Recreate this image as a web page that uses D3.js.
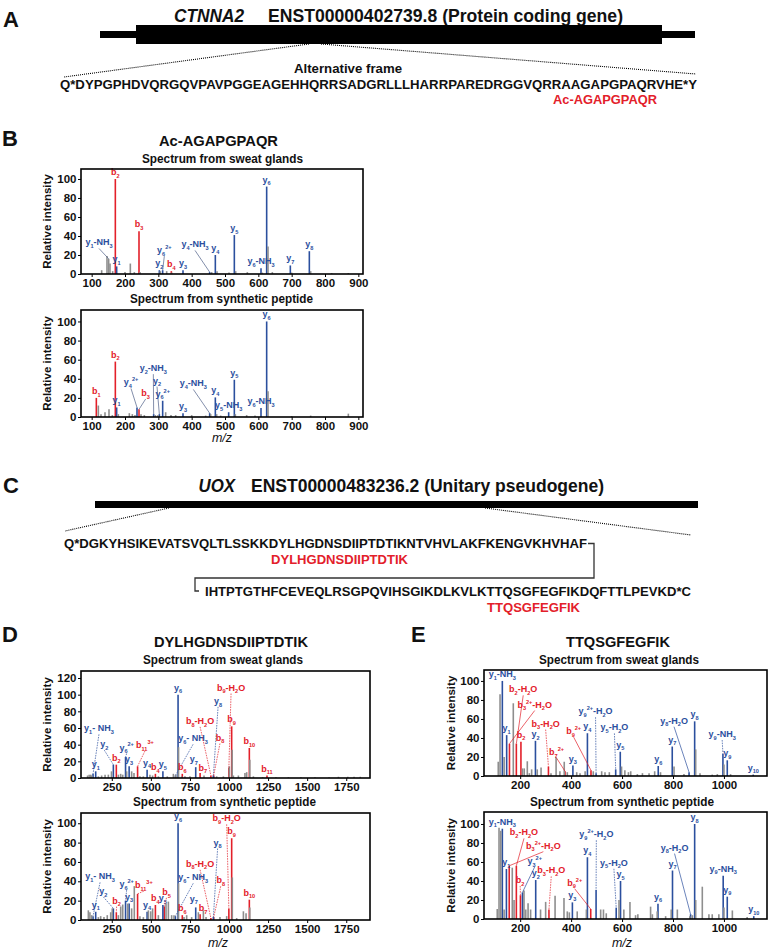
<!DOCTYPE html>
<html><head><meta charset="utf-8">
<script src="https://cdn.jsdelivr.net/npm/d3@7"></script>
<style>
body{margin:0;background:#fff;}
svg{display:block;font-family:"Liberation Sans",Arial,Helvetica,sans-serif;}
</style></head><body>
<svg id="fig" width="768" height="951"></svg>
<script>
// ---------------- DATA ----------------
const seqA = "Q*DYPGPHDVQRGQVPAVPGGEAGEHHQRRSADGRLLLHARRPAREDRGGVQRRAAGAPGPAQRVHE*Y";
const pepA = "Ac-AGAPGPAQR";
const seqC1 = "Q*DGKYHSIKEVATSVQLTLSSKKDYLHGDNSDIIPTDTIKNTVHVLAKFKENGVKHVHAF";
const seqC2 = "IHTPTGTHFCEVEQLRSGPQVIHSGIKDLKVLKTTQSGFEGFIKDQFTTLPEVKD*C";
const pepD = "DYLHGDNSDIIPTDTIK";
const pepE = "TTQSGFEGFIK";

const ticksB = [100,200,300,400,500,600,700,800,900];
const ticksD = [250,500,750,1000,1250,1500,1750];
const ticksE = [200,400,600,800,1000];
const yTicks100 = [0,20,40,60,80,100];
const yTicks120 = [0,20,40,60,80,100,120];

// peaks: [m/z, relative intensity, ion type]  (b, y, o = other)
const bSweatPeaks = [
 [171,100,'b'],[242,45,'b'],[339,3,'b'],
 [175,8,'y'],[303,4,'y'],[313,4,'y'],[374,4,'y'],[454,2,'y'],[471,20,'y'],[528,41,'y'],[608,6,'y'],[625,92,'y'],[696,9,'y'],[753,24,'y'],
 [130,4,'o'],[146,19,'o'],[151,16,'o'],[155,11,'o'],[163,3,'o'],[200,2,'o'],[216,11,'o'],[228,2,'o'],[245,2,'o'],[306,3,'o'],[325,3,'o'],[340,1.5,'o'],[460,2,'o'],[476,3,'o'],[512,1.5,'o'],[532,3,'o'],[567,2,'o'],[612,1.5,'o'],[629,29,'o'],[642,2,'o'],[700,1.5,'o'],[757,3,'o'],[820,1,'o'],[870,1,'o']
];
// labels: [peak m/z, text, label m/z, label intensity, draw leader]
const bSweatLabels = [
 [151,"y{1}-NH{3}",122,30],[175,"y{1}"],[171,"b{2}"],[242,"b{3}"],[303,"y{2}"],
 [313,"y{6}[2+]",318,22],[339,"b{4}"],[374,"y{3}"],[454,"y{4}-NH{3}",410,28],
 [471,"y{4}"],[528,"y{5}"],[608,"y{6}-NH{3}"],[625,"y{6}"],[696,"y{7}"],[753,"y{8}"]
];
const bSynPeaks = [
 [114,20,'b'],[171,58,'b'],[242,8,'b'],
 [175,10,'y'],[236,10,'y'],[286,3,'y'],[303,3,'y'],[313,17,'y'],[374,4,'y'],[454,4,'y'],[471,20.5,'y'],[511,5,'y'],[528,39,'y'],[608,9.5,'y'],[625,100,'y'],
 [120,12,'o'],[128,3,'o'],[140,5,'o'],[152,8,'o'],[162,2,'o'],[180,3,'o'],[213,4,'o'],[222,3,'o'],[230,2,'o'],[248,3,'o'],[258,2,'o'],[291,2,'o'],[299,2,'o'],[322,5,'o'],[338,2,'o'],[352,2,'o'],[400,2,'o'],[442,1.5,'o'],[457,3,'o'],[475,3,'o'],[487,1.5,'o'],[531,3,'o'],[565,2,'o'],[590,1.5,'o'],[629,27,'o'],[700,1,'o'],[757,1.5,'o'],[870,3.5,'o']
];
const bSynLabels = [
 [114,"b{1}"],[171,"b{2}"],[175,"y{1}"],[236,"y{4}[2+]",218,33],[242,"b{3}",262,22],
 [286,"y{2}-NH{3}",285,48],[303,"y{2}",296,35],[313,"y{6}[2+]"],[374,"y{3}"],
 [454,"y{4}-NH{3}",405,32],[471,"y{4}"],[511,"y{5}-NH{3}"],[528,"y{5}"],[608,"y{6}-NH{3}"],[625,"y{6}"]
];
const dSweatPeaks = [
 [279,16,'b'],[415,14,'b'],[529,5,'b'],[701,5,'b'],[815,6,'b'],[884,3,'b'],[902,3,'b'],[999,12,'b'],[1017,62,'b'],[1130,36,'b'],[1243,3,'b'],
 [130,5,'y'],[147,8,'y'],[260,16,'y'],[338,25,'y'],[361,14,'y'],[476,10,'y'],[577,8,'y'],[657,3,'y'],[674,100,'y'],[787,13,'y'],[900,3,'y'],
 [95,3,'o'],[105,4,'o'],[115,4,'o'],[122,3,'o'],[164,2,'o'],[185,3,'o'],[207,4,'o'],[228,4,'o'],[248,8,'o'],[292,4,'o'],[307,5,'o'],[320,4,'o'],[345,8,'o'],[377,8,'o'],[392,6,'o'],[430,2,'o'],[452,2,'o'],[494,4,'o'],[511,3,'o'],[548,2,'o'],[605,2,'o'],[644,5,'o'],[660,4,'o'],[677,37,'o'],[697,2,'o'],[718,2,'o'],[750,2,'o'],[840,3,'o'],[921,2,'o'],[964,2,'o'],[1002,14,'o'],[1020,34,'o'],[1028,3,'o'],[1060,3,'o'],[1102,6,'o'],[1113,7,'o'],[1133,22,'o'],[1156,2,'o'],[1215,1,'o'],[1300,1,'o'],[1380,1,'o'],[1460,1,'o'],[1550,1,'o'],[1640,1,'o'],[1700,1.5,'o'],[1760,1.5,'o'],[1800,1.5,'o'],[1840,1.5,'o']
];
const dSweatLabels = [
 [130,"y{1}- NH{3}",168,56],[147,"y{1}"],[260,"y{2}",202,37],[279,"b{2}"],[338,"y{6}[2+]",345,33],
 [361,"y{3}"],[415,"b{11}[3+]",462,36],[476,"y{4}"],[529,"b{4}"],[577,"y{5}"],[674,"y{6}"],
 [657,"y{6}- NH{3}",770,44],[701,"b{6}"],[787,"y{7}",775,19,false],[815,"b{7}",832,9,false],[884,"b{8}-H{2}O",815,65],
 [900,"y{8}",930,89],[902,"b{8}",942,45],[999,"b{9}-H{2}O",1013,105],[1017,"b{9}"],[1130,"b{10}"],[1243,"b{11}"]
];
const dSynPeaks = [
 [279,8,'b'],[415,27,'b'],[529,15.5,'b'],[586,14,'b'],[701,5,'b'],[815,6,'b'],[884,2,'b'],[902,3,'b'],[999,12,'b'],[1017,84.5,'b'],[1130,21,'b'],
 [130,4,'y'],[147,8.5,'y'],[260,12,'y'],[338,20,'y'],[361,17,'y'],[476,8.5,'y'],[577,15.5,'y'],[657,4,'y'],[674,100,'y'],[787,13,'y'],[900,3,'y'],
 [100,10,'o'],[110,8,'o'],[121,5,'o'],[164,3,'o'],[179,4,'o'],[200,3,'o'],[221,5,'o'],[243,8,'o'],[253,12,'o'],[292,5,'o'],[307,14,'o'],[320,16,'o'],[352,17,'o'],[377,12,'o'],[394,35,'o'],[430,4,'o'],[452,3,'o'],[484,10,'o'],[499,9,'o'],[511,12,'o'],[548,5,'o'],[597,17,'o'],[612,19,'o'],[633,5,'o'],[648,5,'o'],[677,38,'o'],[712,3,'o'],[729,5,'o'],[761,3,'o'],[804,8,'o'],[836,10,'o'],[853,3,'o'],[942,3,'o'],[985,4,'o'],[1021,44,'o'],[1049,2,'o'],[1092,9,'o'],[1109,7,'o'],[1133,13,'o']
];
const dSynLabels = [
 [130,"y{1}- NH{3}",175,42],[147,"y{1}"],[260,"y{2}",196,27],[279,"b{2}",281,17],[338,"y{6}[2+]",345,34],
 [361,"y{3}"],[415,"b{11}[3+]",455,33],[476,"y{4}"],[529,"b{4}"],[577,"y{5}"],[586,"b{5}",600,26],
 [674,"y{6}"],[657,"y{6}- NH{3}",771,41],[701,"b{6}"],[787,"y{7}",775,19,false],[815,"b{7}",834,9,false],[884,"b{8}-H{2}O",815,55],
 [900,"y{8}",927,77],[902,"b{8}",947,38],[999,"b{9}-H{2}O",985,102],[1017,"b{9}"],[1130,"b{10}"]
];
const eSweatPeaks = [
 [158,34,'b'],[185,34,'b'],[203,36,'b'],[311,10,'b'],[376,5,'b'],[478,6,'b'],
 [130,100,'y'],[147,43,'y'],[260,37,'y'],[407,11,'y'],[464,45,'y'],[498,3,'y'],[575,7,'y'],[593,25.5,'y'],[742,10.5,'y'],[797,31,'y'],[863,4,'y'],[885,57.5,'y'],[996,23.5,'y'],[1013,16.5,'y'],[1115,1.5,'y'],
 [114,15,'o'],[121,86,'o'],[137,20,'o'],[173,76.5,'o'],[209,8,'o'],[216,8,'o'],[228,15.5,'o'],[236,3,'o'],[245,7,'o'],[267,7,'o'],[282,9,'o'],[321,3,'o'],[341,20,'o'],[356,5,'o'],[373,15,'o'],[385,4,'o'],[422,4,'o'],[435,3,'o'],[455,5,'o'],[487,5,'o'],[520,5,'o'],[533,4,'o'],[550,4,'o'],[598,10,'o'],[611,6,'o'],[625,4,'o'],[634,5,'o'],[660,2,'o'],[680,3,'o'],[706,3,'o'],[728,5,'o'],[751,4,'o'],[804,10,'o'],[843,2,'o'],[889,28,'o'],[906,3,'o'],[954,1.5,'o'],[974,2,'o'],[1000,12,'o'],[1026,2,'o']
];
const eSweatLabels = [
 [130,"y{1}-NH{3}"],[147,"y{1}"],[185,"b{2}-H{2}O",212,88],[158,"b{3}[2+]-H{2}O",257,72],[203,"b{2}"],
 [260,"y{2}"],[311,"b{3}-H{2}O",300,52],[376,"b{7}[2+]",343,22],[407,"y{3}"],[478,"b{9}[2+]",410,44],
 [464,"y{4}"],[498,"y{9}[2+]-H{2}O",496,65],[575,"y{5}-H{2}O",570,48],[593,"y{5}"],[742,"y{6}"],[797,"y{7}"],
 [863,"y{8}-H{2}O",804,55],[885,"y{8}"],[996,"y{9}-NH{3}",993,41],[1013,"y{9}"],[1115,"y{10}"]
];
const eSynPeaks = [
 [157,56,'b'],[185,56,'b'],[201,25,'b'],[313,10,'b'],[477,10.5,'b'],
 [130,95,'y'],[146,52.6,'y'],[209,28,'y'],[261,41,'y'],[405,17.5,'y'],[464,65,'y'],[498,30.5,'y'],[577,12,'y'],[594,40,'y'],[741,16,'y'],[798,51,'y'],[869,5,'y'],[885,100,'y'],[997,45.5,'y'],[1013,23.5,'y'],[1117,3,'y'],
 [110,10.5,'o'],[117,96,'o'],[124,93,'o'],[137,10,'o'],[169,54,'o'],[176,20,'o'],[215,30,'o'],[222,10,'o'],[231,16.5,'o'],[241,10,'o'],[280,10,'o'],[300,18,'o'],[337,24.5,'o'],[372,22,'o'],[385,8,'o'],[393,7,'o'],[424,8,'o'],[460,10,'o'],[516,10,'o'],[527,10,'o'],[538,6,'o'],[588,20,'o'],[607,10,'o'],[631,18,'o'],[653,4,'o'],[662,5,'o'],[712,13,'o'],[719,5,'o'],[738,8,'o'],[771,3,'o'],[793,10,'o'],[817,10,'o'],[866,3,'o'],[876,4,'o'],[889,20,'o'],[915,34,'o'],[941,5,'o'],[954,5,'o'],[980,5,'o'],[1000,12,'o'],[1033,9,'o'],[1091,2,'o']
];
const eSynLabels = [
 [130,"y{1}-NH{3}"],[146,"y{1}"],[185,"b{2}-H{2}O",215,88],[157,"b{3}[2+]-H{2}O",291,74],[209,"y{3}[2+]",257,58],
 [201,"b{2}",200,38],[261,"y{2}"],[313,"b{3}-H{2}O",322,48],[405,"y{3}"],[477,"b{9}[2+]",414,35],
 [464,"y{4}"],[498,"y{9}[2+]-H{2}O",499,86],[577,"y{5}-H{2}O",568,56],[594,"y{5}"],[741,"y{6}"],[798,"y{7}"],
 [869,"y{8}-H{2}O",806,72],[885,"y{8}"],[997,"y{9}-NH{3}"],[1013,"y{9}"],[1117,"y{10}"]
];

// ---------------- DRAWING ----------------
const FONT = '"Liberation Sans",Arial,Helvetica,sans-serif';
const COL = {b:"#e3202a", y:"#2b4f9e", o:"#8e8e8e"};
const svg = d3.select("#fig");

function txt(str, x1, x2, base, size, opt={}){
  const t = svg.append("text").attr("x",x1).attr("y",base).text(str)
    .attr("font-size",size).attr("font-weight",opt.weight||"bold")
    .attr("fill",opt.fill||"#111");
  if(opt.italic) t.attr("font-style","italic");
  if(x2!=null){ t.attr("textLength",x2-x1).attr("lengthAdjust","spacingAndGlyphs"); }
  return t;
}
function rich(sel, str, size){
  const re=/\{([^}]*)\}|\[([^\]]*)\]|([^{\[]+)/g;
  let m, shift=0;
  while((m=re.exec(str))){
    let t,k;
    if(m[1]!==undefined){t=m[1];k='sub';} else if(m[2]!==undefined){t=m[2];k='sup';} else {t=m[3];k='n';}
    const target = k==='sub'? size*0.3 : k==='sup'? -size*0.45 : 0;
    const ts = sel.append("tspan").text(t).attr("dy",target-shift);
    shift=target;
    if(k!=='n') ts.attr("font-size",size*0.62);
  }
}

function spectrum(c){
  const g = svg.append("g");
  const x = d3.scaleLinear().domain(c.xdom).range([c.left,c.right]);
  const y = d3.scaleLinear().domain([0,c.ymax]).range([c.bottom,c.top]);
  const sorted = [...c.peaks.filter(p=>p[2]!=='o'), ...c.peaks.filter(p=>p[2]==='o')];
  g.append("g").selectAll("line").data(sorted).join("line")
    .attr("x1",d=>x(d[0])).attr("x2",d=>x(d[0]))
    .attr("y1",y(0)).attr("y2",d=>y(d[1]))
    .attr("stroke",d=>COL[d[2]]).attr("stroke-width",1.6);
  const lg = g.append("g");
  c.labels.forEach(l=>{
    const [mz,str,lx,ly,lead] = l;
    const pk = c.peaks.reduce((a,p)=>Math.abs(p[0]-mz)<Math.abs(a[0]-mz)?p:a);
    const col = str[0]==='b'?COL.b:COL.y;
    let tx,ty;
    if(lx===undefined){ tx=x(pk[0]); ty=y(pk[1])-4; }
    else{
      tx=x(lx); ty=y(ly);
      if(lead!==false){
        const ln = lg.append("line").attr("x1",tx).attr("y1",ty+3)
          .attr("x2",x(pk[0])).attr("y2",y(pk[1]))
          .attr("stroke",c.leadCol||col).attr("stroke-width",0.7);
        const vertical = Math.abs(tx-x(pk[0]))<6;
        if(c.dash==='all' || (c.dash==='vertical' && vertical)) ln.attr("stroke-dasharray","1.6,1");
      }
    }
    const t = lg.append("text").attr("x",tx).attr("y",ty).attr("text-anchor","middle")
      .attr("fill",col).attr("font-size",c.lfs).attr("font-weight","bold");
    rich(t,str,c.lfs);
  });
  g.append("rect").attr("x",c.left).attr("y",c.top).attr("width",c.right-c.left).attr("height",c.bottom-c.top)
    .attr("fill","none").attr("stroke","#000").attr("stroke-width",1.6);
  const ax = g.append("g").attr("transform",`translate(0,${c.bottom})`)
    .call(d3.axisBottom(x).tickValues(c.xticks).tickFormat(d3.format("d")).tickSize(3).tickPadding(2));
  const ay = g.append("g").attr("transform",`translate(${c.left},0)`)
    .call(d3.axisLeft(y).tickValues(c.yticks).tickFormat(d3.format("d")).tickSize(3).tickPadding(1.5));
  [ax,ay].forEach(a=>{
    a.attr("font-family",FONT).attr("font-size",11.5).attr("font-weight","bold");
    a.select(".domain").remove();
    a.selectAll("line").attr("stroke","#000");
    a.selectAll("text").attr("fill","#111");
  });
  g.append("text").attr("transform",`translate(${c.ylabX},${(c.top+c.bottom)/2}) rotate(-90)`)
    .attr("text-anchor","middle").attr("dy","0.35em").attr("font-size",11.5).attr("font-weight","bold")
    .attr("fill","#111").text("Relative intensity");
  if(c.sub) txt(c.sub[0], c.sub[1], c.sub[2], c.sub[3], 12);
  if(c.mz) svg.append("text").attr("x",c.mz[0]).attr("y",c.mz[1]).attr("text-anchor","middle")
     .attr("font-size",12.5).attr("font-style","italic").attr("fill","#111").text("m/z");
}

// ---- panel letters
[["A",3,27],["B",2,146],["C",3,493],["D",2,642],["E",411,642]].forEach(([s,x,y])=>{
  svg.append("text").attr("x",x).attr("y",y).attr("font-size",22).attr("font-weight","bold").attr("fill","#111").text(s);
});

function dotted(x1,y1,x2,y2){
  svg.append("line").attr("x1",x1).attr("y1",y1).attr("x2",x2).attr("y2",y2)
    .attr("stroke","#000").attr("stroke-width",1.1).attr("stroke-dasharray","1,1");
}

// ---- Panel A
txt("CTNNA2",174,244,22,17.5,{italic:true});
txt("ENST00000402739.8 (Protein coding gene)",268,623,22,17.5);
svg.append("rect").attr("x",100).attr("y",31).attr("width",595).attr("height",7).attr("fill","#000");
svg.append("rect").attr("x",136).attr("y",25).attr("width",526).attr("height",19).attr("fill","#000");
dotted(309,44,64,77);
dotted(321,44,696,74);
txt("Alternative frame",294,402,73,13.5);
txt(seqA,60,697,89,13);
txt(pepA,553,657,104,13,{fill:COL.b});

// ---- Panel B
txt(pepA,159,278,146,14.6);
spectrum({left:81,right:363,top:169,bottom:274,xdom:[68,914],ymax:110.5,xticks:ticksB,yticks:yTicks100,
  peaks:bSweatPeaks,labels:bSweatLabels,lfs:9,dash:'none',leadCol:"#4d5f86",ylabX:47,
  sub:["Spectrum from sweat glands",142,303,163]});
spectrum({left:81,right:363,top:310,bottom:417,xdom:[68,914],ymax:112,xticks:ticksB,yticks:yTicks100,
  peaks:bSynPeaks,labels:bSynLabels,lfs:9,dash:'none',leadCol:"#4d5f86",ylabX:47,
  sub:["Spectrum from synthetic peptide",130,313,303],mz:[222,442]});

// ---- Panel C
txt("UOX",198.5,235,492,17.5,{italic:true});
txt("ENST00000483236.2 (Unitary pseudogene)",251,604,492,17.5);
svg.append("rect").attr("x",95).attr("y",501).attr("width",603).attr("height",7).attr("fill","#000");
dotted(169,508,65,531);
dotted(485,508,691,535);
txt(seqC1,64,587,548,13);
svg.append("path").attr("d","M588,543.5H594V578H195V591H199").attr("fill","none").attr("stroke","#333").attr("stroke-width",1.3);
txt(pepD,271,408,564,12.7,{fill:COL.b});
txt(seqC2,205,691,596,13);
txt(pepE,487,580,612,13,{fill:COL.b});

// ---- Panel D
txt(pepD,154,308,647,14.3);
spectrum({left:81,right:370,top:671,bottom:778,xdom:[53,1902],ymax:128.4,xticks:ticksD,yticks:yTicks120,
  peaks:dSweatPeaks,labels:dSweatLabels,lfs:9,dash:'all',ylabX:47,
  sub:["Spectrum from sweat glands",143,303,664]});
spectrum({left:81,right:370,top:813,bottom:920,xdom:[53,1902],ymax:110.6,xticks:ticksD,yticks:yTicks100,
  peaks:dSynPeaks,labels:dSynLabels,lfs:9,dash:'all',ylabX:47,
  sub:["Spectrum from synthetic peptide",133,316,806],mz:[218,947]});

// ---- Panel E
txt(pepE,566,670,647,14.6);
spectrum({left:484,right:767,top:670,bottom:776,xdom:[58,1169],ymax:111.5,xticks:ticksE,yticks:yTicks100,
  peaks:eSweatPeaks,labels:eSweatLabels,lfs:9,dash:'vertical',ylabX:451,
  sub:["Spectrum from sweat glands",539,699,664]});
spectrum({left:484,right:767,top:812,bottom:919,xdom:[58,1169],ymax:112.6,xticks:ticksE,yticks:yTicks100,
  peaks:eSynPeaks,labels:eSynLabels,lfs:9,dash:'vertical',ylabX:451,
  sub:["Spectrum from synthetic peptide",530,714,806],mz:[622,947]});
</script>
</body></html>
